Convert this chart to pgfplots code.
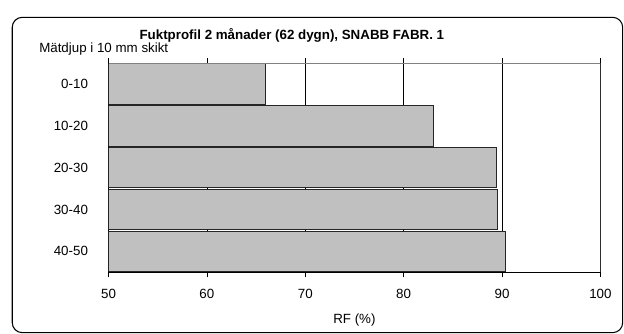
\documentclass[border=0pt]{standalone}
\usepackage{pgfplots}
\pgfplotsset{compat=1.18}
\usepackage{fontspec}
\setmainfont{Liberation Sans}
\definecolor{barfill}{HTML}{C0C0C0}
\definecolor{frameGray}{HTML}{808080}

\begin{document}
\begin{tikzpicture}[font=\fontsize{10}{12}\selectfont]
  % page extent and rounded chart frame
  \useasboundingbox (0,0) rectangle (468pt,250.5pt);
  \draw[line width=0.8pt, rounded corners=7.5pt] (9.2pt,1.0pt) rectangle (467.0pt,237.5pt);

  \begin{axis}[
    at={(81.4pt,46.3pt)}, anchor=south west,
    scale only axis,
    width=368.9pt, height=156.8pt,
    xmin=50, xmax=100,
    ymin=-0.5, ymax=4.5,
    y dir=reverse,
    xtick={50,60,...,100},
    ytick={0,1,2,3,4},
    yticklabels={0-10,10-20,20-30,30-40,40-50},
    extra y ticks={-0.5,0.5,1.5,2.5,3.5,4.5},
    extra y tick labels={},
    extra y tick style={major tick length=3.75pt, tick style={black, line width=0.6pt}},
    tick align=outside,
    major tick length=3.75pt,
    ytick style={draw=none},
    xtick style={black, line width=0.6pt},
    xmajorgrids,
    major grid style={black, line width=0.6pt},
    axis line style={draw=none},
    /pgf/number format/assume math mode=true,
    xticklabel style={anchor=north, inner sep=0pt, yshift=-8.4pt},
    yticklabel style={anchor=east, inner sep=0pt, xshift=-11.5pt},
    xbar,
    bar width=0.965,
    bar shift=0pt,
    clip=true,
  ]
    \addplot[fill=barfill, draw=black!85, line width=0.75pt]
      coordinates {(66.0,0) (83.0,1) (89.4,2) (89.5,3) (90.4,4)};
    % frame of the plot area: gray top and right, black left and bottom
    \draw[frameGray, line width=0.75pt] (rel axis cs:0,1) -- (rel axis cs:1,1) -- (rel axis cs:1,0);
    \draw[black, line width=0.9pt] (rel axis cs:0,1) -- (rel axis cs:0,0) -- (rel axis cs:1,0);
  \end{axis}

  \node[anchor=base west, inner sep=0pt, font=\fontsize{10}{12}\selectfont\bfseries]
    at (104.5pt,220.6pt) {Fuktprofil 2 månader (62 dygn), SNABB FABR. 1};
  \node[anchor=base west, inner sep=0pt] at (29.25pt,211.1pt) {Mätdjup i 10 mm skikt};
  \node[anchor=base, inner sep=0pt] at (265.8pt,7.5pt) {RF (\%)};
\end{tikzpicture}
\end{document}
